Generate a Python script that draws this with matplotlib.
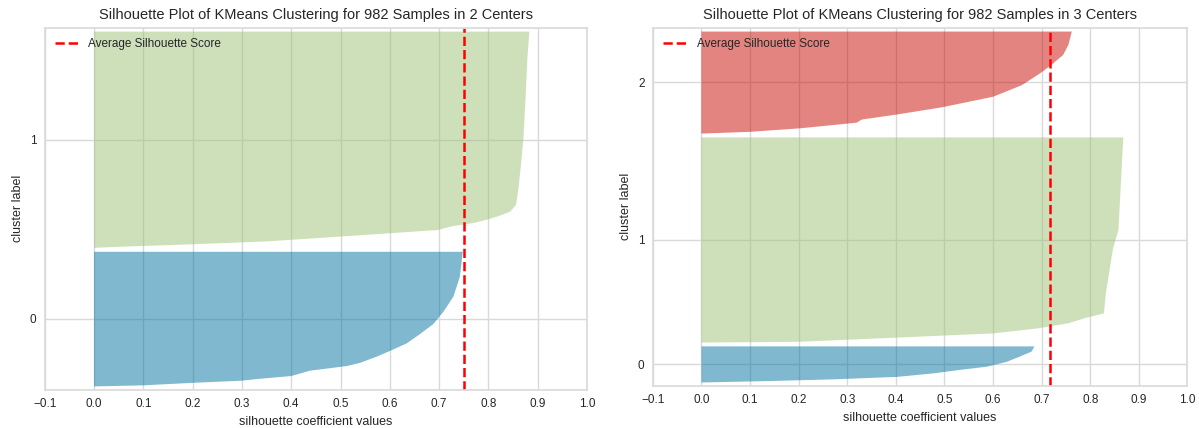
import numpy as np
import matplotlib.pyplot as plt

plt.rcParams['font.family'] = ['Liberation Sans', 'DejaVu Sans']
plt.rcParams['text.color'] = '#262626'
plt.rcParams['axes.labelcolor'] = '#262626'
plt.rcParams['xtick.color'] = '#262626'
plt.rcParams['ytick.color'] = '#262626'

n_samples = 982
colors = ['#0272a2', '#9fc377', '#ca0b03']

# silhouette profiles, sorted ascending: (rank within cluster, coefficient)
k2_sizes = [377, 605]
k2_rank_0 = [0, 3, 10, 16, 21, 29, 44, 51, 57, 66, 83, 99, 120, 146, 174, 209, 251, 306, 376]
k2_sil_0 = [0.0, 0.10, 0.20, 0.30, 0.333, 0.40, 0.438, 0.479, 0.513, 0.54, 0.573, 0.60,
            0.634, 0.661, 0.688, 0.709, 0.729, 0.742, 0.748]
k2_rank_1 = [0, 3, 10, 18, 27, 39, 50, 60, 70, 80, 87, 101, 120, 166, 232, 306, 436, 530, 604]
k2_sil_1 = [0.0, 0.05, 0.20, 0.35, 0.45, 0.58, 0.698, 0.725, 0.772, 0.80, 0.817, 0.844,
            0.856, 0.861, 0.866, 0.871, 0.876, 0.879, 0.883]
k2_avg = 0.750

k3_sizes = [104, 586, 292]
k3_rank_0 = [0, 4, 9, 16, 26, 36, 45, 59, 74, 88, 103]
k3_sil_0 = [0.0, 0.134, 0.271, 0.402, 0.477, 0.532, 0.587, 0.628, 0.655, 0.679, 0.685]
k3_rank_1 = [0, 2, 14, 26, 40, 55, 70, 83, 140, 245, 269, 321, 511, 585]
k3_sil_1 = [0.0, 0.20, 0.40, 0.60, 0.69, 0.755, 0.79, 0.828, 0.832, 0.844, 0.847, 0.858,
            0.865, 0.868]
k3_rank_2 = [0, 5, 15, 31, 40, 55, 75, 105, 138, 172, 196, 224, 253, 291]
k3_sil_2 = [0.0, 0.10, 0.203, 0.319, 0.33, 0.405, 0.495, 0.60, 0.659, 0.697, 0.72, 0.744,
            0.755, 0.762]
k3_avg = 0.717

xticks = np.round(np.arange(-0.1, 1.01, 0.1), 1)


def silhouette(ax, sizes, ranks, sils, avg):
    k = len(sizes)
    y_lower = 10
    label_pos = []
    for i in range(k):
        y = y_lower + np.array(ranks[i])
        ax.fill_betweenx(y, 0, sils[i], facecolor=colors[i], edgecolor='none',
                         alpha=0.5, lw=0)
        label_pos.append(y_lower + 0.5 * sizes[i])
        y_lower = y_lower + sizes[i] + 10
    ax.axvline(avg, color='red', linestyle='--', lw=1.8, label='Average Silhouette Score')
    ax.set_title('Silhouette Plot of KMeans Clustering for %d Samples in %d Centers'
                 % (n_samples, k), fontsize=10.5)
    ax.set_xlim(-0.1, 1.0)
    ax.set_ylim(0, n_samples + (k + 1) * 10)
    ax.set_xticks(xticks)
    ax.set_yticks(label_pos)
    ax.set_yticklabels([str(i) for i in range(k)])
    ax.set_xlabel('silhouette coefficient values', fontsize=9)
    ax.set_ylabel('cluster label', fontsize=9)
    ax.tick_params(length=0, labelsize=8.5, pad=6)
    ax.grid(True, color='#d9d9d9', lw=1)
    ax.set_axisbelow(True)
    for s in ax.spines.values():
        s.set_color('#d9d9d9')
        s.set_linewidth(1.2)
    ax.legend(loc='upper left', frameon=False, fontsize=8.5)


fig = plt.figure(figsize=(11.99, 4.28), dpi=100)
ax1 = fig.add_axes([0.0373, 0.0888, 0.4523, 0.8465])
ax2 = fig.add_axes([0.5445, 0.0981, 0.4459, 0.8372])

silhouette(ax1, k2_sizes, [k2_rank_0, k2_rank_1], [k2_sil_0, k2_sil_1], k2_avg)
silhouette(ax2, k3_sizes, [k3_rank_0, k3_rank_1, k3_rank_2],
           [k3_sil_0, k3_sil_1, k3_sil_2], k3_avg)

fig.savefig('out.png', dpi=100)
